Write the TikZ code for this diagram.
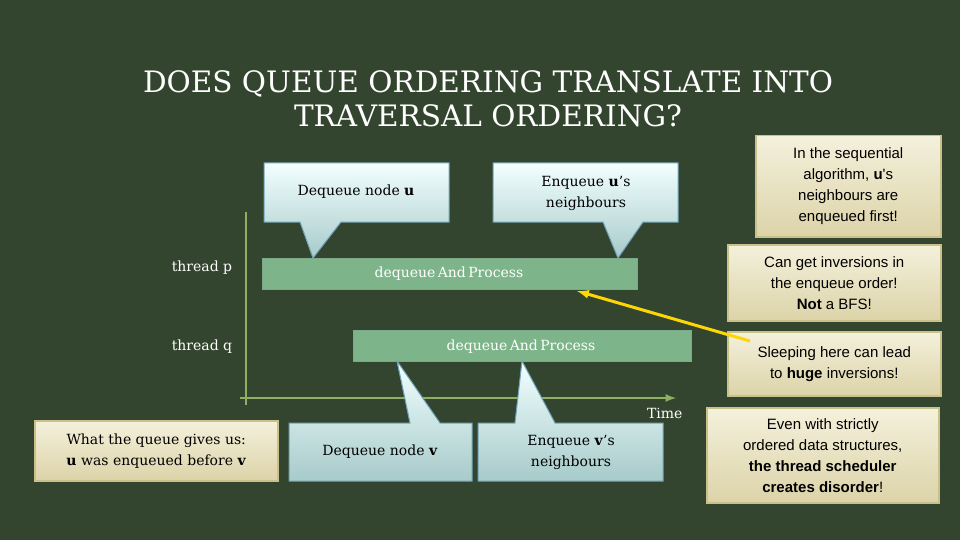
\documentclass[tikz,border=0pt]{standalone}
\usepackage{fontspec}
\setmainfont{DejaVu Serif}
\newfontfamily\sansf{Liberation Sans}
\definecolor{bgc}{HTML}{34452F}
\definecolor{barc}{HTML}{7DB48A}
\definecolor{axc}{HTML}{8FAF63}
\definecolor{tanb}{HTML}{C9C08A}
\definecolor{tanl}{HTML}{F4F1DC}
\definecolor{tand}{HTML}{DCD3A8}
\begin{document}
\begin{tikzpicture}[x=1pt,y=-1pt,
 tan/.style={draw=tanb,line width=1.5pt,top color=tanl,bottom color=tand,align=center,inner sep=0pt,font=\sansf\fontsize{15}{21}\selectfont},
 callout/.style={draw=cyan!40!gray,line width=1pt,top color=white!95!cyan,bottom color=cyan!25!gray!55},
 bar/.style={fill=barc,draw=barc!80!gray,line width=1pt},
 bartext/.style={text=white,font=\fontsize{14}{18}\selectfont},
 lbl/.style={text=white,font=\fontsize{14}{18}\selectfont},
 ctext/.style={align=center,font=\fontsize{14}{21}\selectfont}]
\fill[bgc] (0,0) rectangle (960,540);
\useasboundingbox (0,0) rectangle (960,540);
\node[text=white,align=center,font=\fontsize{29.5}{34}\selectfont] (title) at (488,99) {DOES QUEUE ORDERING TRANSLATE INTO\\TRAVERSAL ORDERING?};
% axes
\coordinate (yt) at (246,212); \coordinate (yb) at (246,405);
\coordinate (xl) at (240,398); \coordinate (xr) at (676,398);
\draw[axc,line width=2.5pt] (yt) -- (yb);
\draw[axc,line width=2.5pt,-latex] (xl) -- (xr);
\node[lbl,anchor=east] (tl) at (686,413) {Time};
\node[lbl] (tp) at (202,268) {thread p};
\node[lbl] (tq) at (202,347) {thread q};
% bars
\node[bar,minimum width=375,minimum height=31,anchor=north west] (bp) at (262,258) {};
\node[bartext] at (449,274) {dequeue\,And\,Process};
\node[bar,minimum width=338,minimum height=31,anchor=north west] (bq) at (353,330) {};
\node[bartext] at (521,347) {dequeue\,And\,Process};
% callouts top
\draw[callout] (264,163) -- (449,163) -- (449,222) -- (341,222) -- (313,258) -- (300,222) -- (264,222) -- cycle;
\node[ctext] (cu) at (356,192) {Dequeue node \textbf{u}};
\draw[callout] (493,163) -- (678,163) -- (678,222) -- (643,222) -- (618,258) -- (603,222) -- (493,222) -- cycle;
\node[ctext] (cn) at (586,193) {Enqueue \textbf{u}'s\\neighbours};
% callouts bottom
\draw[callout] (397,361) -- (440,423) -- (472,423) -- (472,481) -- (289,481) -- (289,423) -- (410,423) -- cycle;
\node[ctext] (cv) at (380,452) {Dequeue node \textbf{v}};
\draw[callout] (522,361) -- (555,423) -- (663,423) -- (663,481) -- (478,481) -- (478,423) -- (515,423) -- cycle;
\node[ctext] (cw) at (571,452) {Enqueue \textbf{v}'s\\neighbours};
% tan boxes
\node[tan,minimum width=185,minimum height=101,anchor=north west] (b1) at (755,135) {In the sequential\\algorithm, \textbf{u}'s\\neighbours are\\enqueued first!};
\node[tan,minimum width=213,minimum height=76,anchor=north west] (b2) at (727,244) {Can get inversions in\\the enqueue order!\\\textbf{Not} a BFS!};
\node[tan,minimum width=213,minimum height=64,anchor=north west] (b3) at (727,331) {Sleeping here can lead\\to \textbf{huge} inversions!};
\node[tan,minimum width=232,minimum height=95,anchor=north west] (b4) at (706,407) {Even with strictly\\ordered data structures,\\\textbf{the thread scheduler}\\\textbf{creates disorder}!};
\node[tan,font=\fontsize{14}{21}\selectfont,minimum width=243,minimum height=60,anchor=north west] (b5) at (34,420) {What the queue gives us:\\\textbf{u} was enqueued before \textbf{v}};
% arrow
\coordinate (as) at (750,341);
\coordinate (ae) at (577,291);
\draw[yellow!75!orange,line width=3pt,-latex] (as) -- (ae);
\end{tikzpicture}
\end{document}
